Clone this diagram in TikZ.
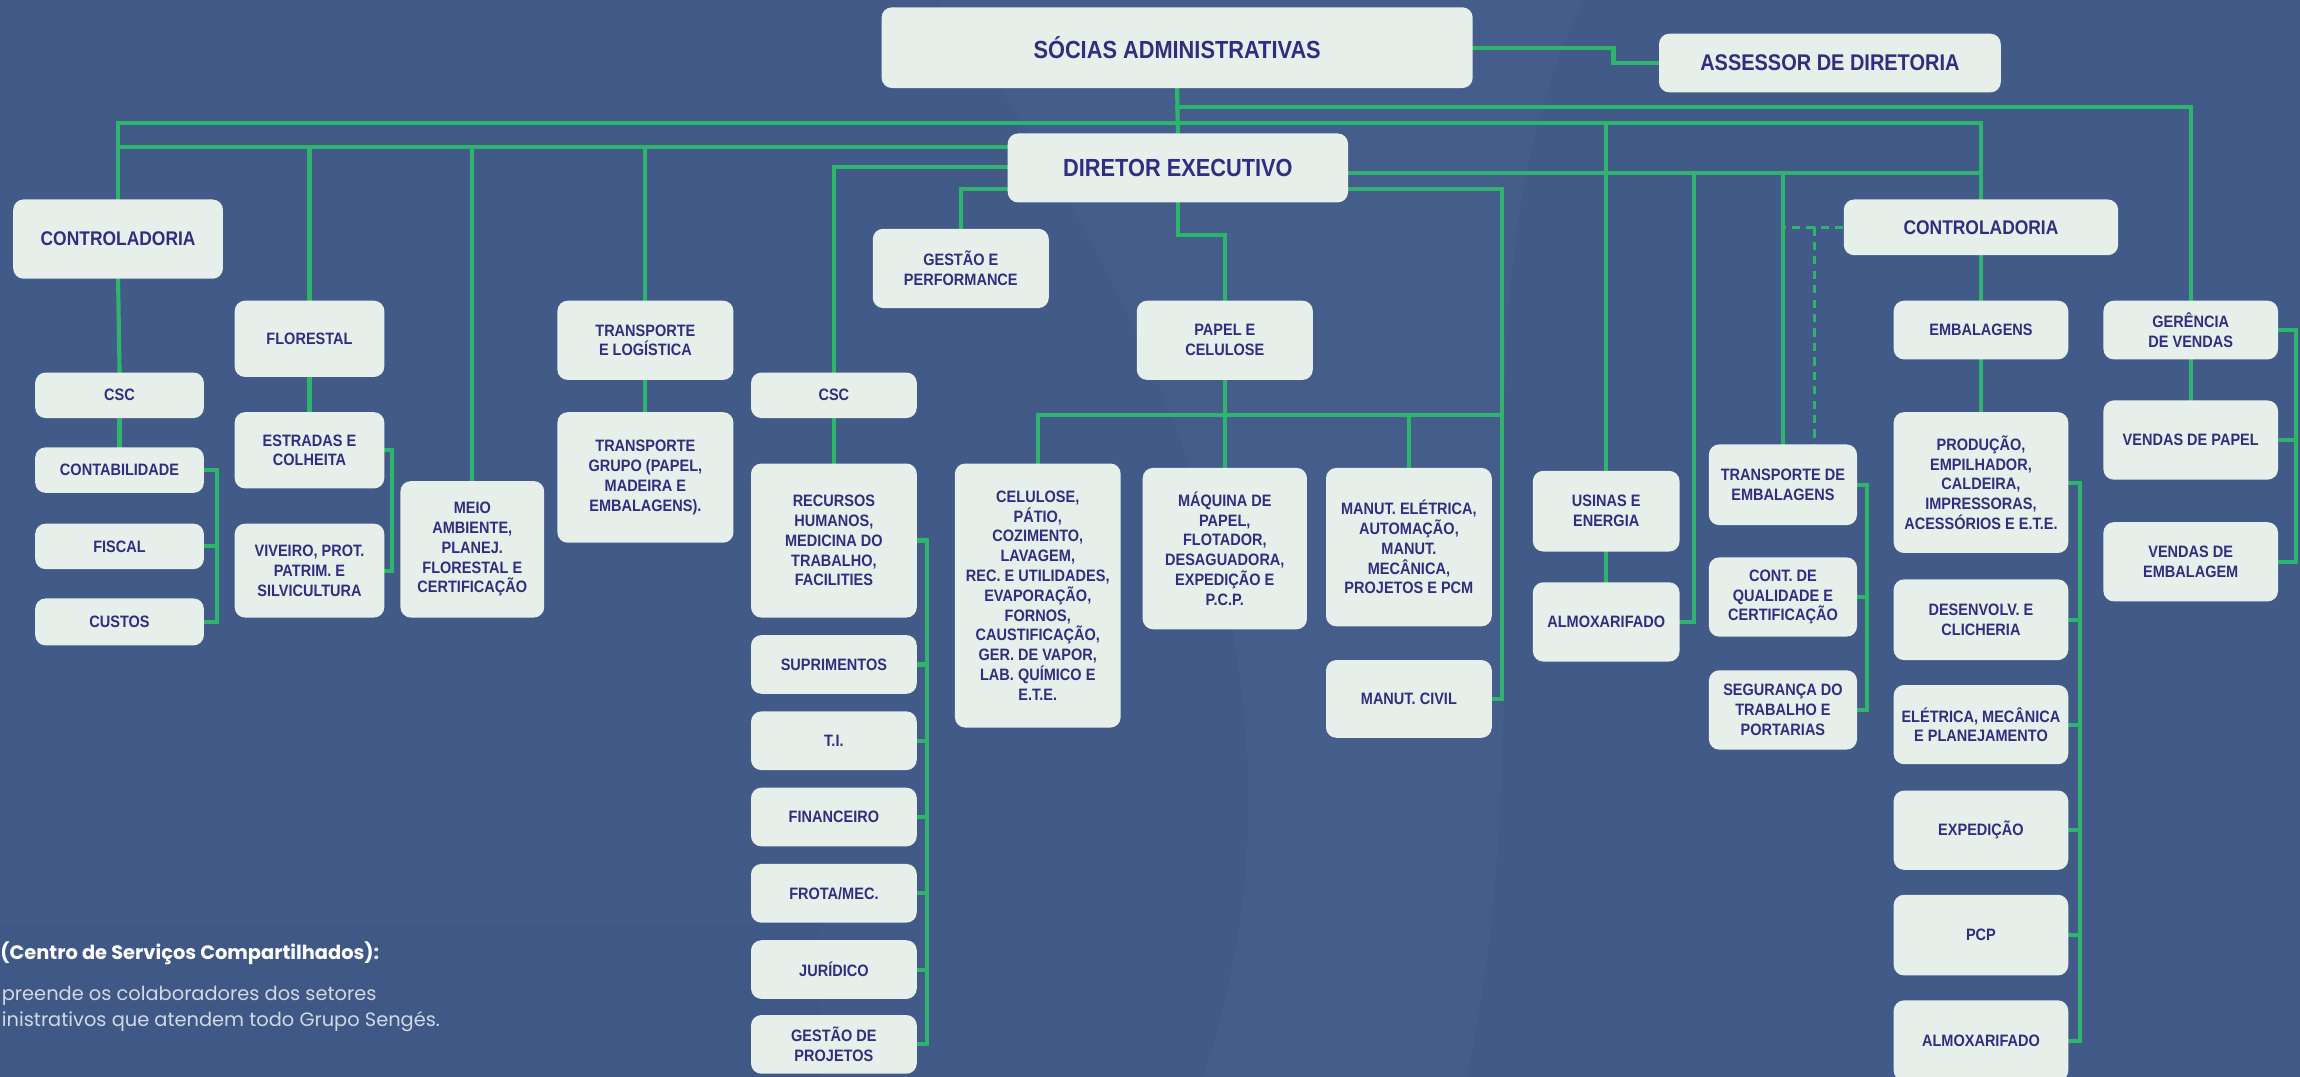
\documentclass[tikz,border=0pt]{standalone}
\usepackage{fontspec}
\setmainfont{Liberation Sans}
\newfontfamily\boxfont{Liberation Sans}[FakeStretch=0.88]
\newfontfamily\popfont{Poppins}
\usetikzlibrary{calc}
\definecolor{bgblue}{HTML}{415A88}
\definecolor{boxfill}{HTML}{E7EFEB}
\definecolor{boxtext}{HTML}{2E2F80}
\definecolor{lgreen}{HTML}{2DB66B}
\definecolor{bodytext}{HTML}{D3D9E4}
\newcommand\fsA{\boxfont\bfseries\fontsize{8}{9.6}\selectfont}
\newcommand\fsB{\boxfont\bfseries\fontsize{9.6}{11.5}\selectfont}
\newcommand\fsC{\boxfont\bfseries\fontsize{12}{14}\selectfont}
\newcommand\fsD{\boxfont\bfseries\fontsize{11}{13}\selectfont}
\newcommand\obox[7]{%
  \pgfmathsetmacro\bw{(#5-#3)*0.025}\pgfmathsetmacro\bh{(#6-#4)*0.025}%
  \node[#1, minimum width=\bw cm, minimum height=\bh cm] (#2) at ({(#3+#5)/2},{(#4+#6)/2}) {#7};}
\pgfdeclarelayer{bg}
\pgfdeclarelayer{lines}
\pgfsetlayers{bg,lines,main}
\tikzset{
  ob/.style={fill=boxfill, rounded corners=5pt, inner sep=0pt, align=center, text=boxtext, font=\fsA},
  obB/.style={ob, font=\fsB},
  obC/.style={ob, font=\fsC},
  obD/.style={ob, font=\fsD},
  conn/.style={draw=lgreen, line width=2pt, line cap=rect},
  dconn/.style={draw=lgreen, line width=1.5pt, dashed, dash pattern=on 4pt off 3pt},
}
\begin{document}
\begin{tikzpicture}[x=0.025cm, y=-0.025cm]
\useasboundingbox (0,0) rectangle (1568,734);
\begin{pgfonlayer}{bg}
  \fill[bgblue] (0,0) rectangle (1568,734);
  \fill[white, opacity=0.018] (640,0) .. controls (820,250) and (900,500) .. (820,734) -- (1000,734) .. controls (1060,450) and (980,200) .. (1080,0) -- cycle;
  \fill[black, opacity=0.02] (0,629) rectangle (560,734);
\end{pgfonlayer}

% top
\obox{obC}{soc}{601}{5}{1004}{60}{SÓCIAS ADMINISTRATIVAS}
\obox{obD}{ass}{1131}{23}{1364}{63}{ASSESSOR DE DIRETORIA}
\obox{obC}{dir}{687}{91}{919}{138}{DIRETOR EXECUTIVO}

% left controladoria
\obox{obB}{contL}{9}{136}{152}{190}{CONTROLADORIA}
\obox{ob}{cscL}{24}{254}{139}{285}{CSC}
\obox{ob}{contab}{24}{305}{139}{336}{CONTABILIDADE}
\obox{ob}{fiscal}{24}{357}{139}{388}{FISCAL}
\obox{ob}{custos}{24}{408}{139}{440}{CUSTOS}

% florestal
\obox{ob}{flor}{160}{205}{262}{257}{FLORESTAL}
\obox{ob}{estr}{160}{281}{262}{333}{ESTRADAS E\\COLHEITA}
\obox{ob}{viv}{160}{357}{262}{421}{VIVEIRO, PROT.\\PATRIM. E\\SILVICULTURA}
\obox{ob}{meio}{273}{328}{371}{421}{MEIO\\AMBIENTE,\\PLANEJ.\\FLORESTAL E\\CERTIFICAÇÃO}

% transporte
\obox{ob}{tlog}{380}{205}{500}{259}{TRANSPORTE\\E LOGÍSTICA}
\obox{ob}{tgrp}{380}{281}{500}{370}{TRANSPORTE\\GRUPO (PAPEL,\\MADEIRA E\\EMBALAGENS).}

% csc middle
\obox{ob}{gest}{595}{156}{715}{210}{GESTÃO E\\PERFORMANCE}
\obox{ob}{cscM}{512}{254}{625}{285}{CSC}
\obox{ob}{rh}{512}{316}{625}{421}{RECURSOS\\HUMANOS,\\MEDICINA DO\\TRABALHO,\\FACILITIES}
\obox{ob}{supr}{512}{433}{625}{473}{SUPRIMENTOS}
\obox{ob}{ti}{512}{485}{625}{525}{T.I.}
\obox{ob}{fin}{512}{537}{625}{577}{FINANCEIRO}
\obox{ob}{frota}{512}{589}{625}{629}{FROTA/MEC.}
\obox{ob}{jur}{512}{641}{625}{681}{JURÍDICO}
\obox{ob}{gproj}{512}{692}{625}{732}{GESTÃO DE\\PROJETOS}

% papel e celulose
\obox{ob}{papel}{775}{205}{895}{259}{PAPEL E\\CELULOSE}
\obox{ob}{celu}{651}{316}{764}{496}{CELULOSE,\\PÁTIO,\\COZIMENTO,\\LAVAGEM,\\REC. E UTILIDADES,\\EVAPORAÇÃO,\\FORNOS,\\CAUSTIFICAÇÃO,\\GER. DE VAPOR,\\LAB. QUÍMICO E\\E.T.E.}
\obox{ob}{maq}{779}{319}{891}{429}{MÁQUINA DE\\PAPEL,\\FLOTADOR,\\DESAGUADORA,\\EXPEDIÇÃO E\\P.C.P.}
\obox{ob}{manel}{904}{319}{1017}{427}{MANUT. ELÉTRICA,\\AUTOMAÇÃO,\\MANUT.\\MECÂNICA,\\PROJETOS E PCM}
\obox{ob}{mciv}{904}{450}{1017}{503}{MANUT. CIVIL}

% usinas
\obox{ob}{usin}{1045}{321}{1145}{376}{USINAS E\\ENERGIA}
\obox{ob}{almM}{1045}{397}{1145}{451}{ALMOXARIFADO}

% transporte embalagens
\obox{ob}{temb}{1165}{303}{1266}{358}{TRANSPORTE DE\\EMBALAGENS}
\obox{ob}{cq}{1165}{380}{1266}{434}{CONT. DE\\QUALIDADE E\\CERTIFICAÇÃO}
\obox{ob}{seg}{1165}{457}{1266}{511}{SEGURANÇA DO\\TRABALHO E\\PORTARIAS}

% right controladoria
\obox{obB}{contR}{1257}{136}{1444}{174}{CONTROLADORIA}
\obox{ob}{emb}{1291}{205}{1410}{245}{EMBALAGENS}
\obox{ob}{prod}{1291}{281}{1410}{377}{PRODUÇÃO,\\EMPILHADOR,\\CALDEIRA,\\IMPRESSORAS,\\ACESSÓRIOS E E.T.E.}
\obox{ob}{desv}{1291}{395}{1410}{450}{DESENVOLV. E\\CLICHERIA}
\obox{ob}{elet}{1291}{467}{1410}{521}{ELÉTRICA, MECÂNICA\\E PLANEJAMENTO}
\obox{ob}{exped}{1291}{539}{1410}{593}{EXPEDIÇÃO}
\obox{ob}{pcp}{1291}{610}{1410}{665}{PCP}
\obox{ob}{almR}{1291}{682}{1410}{737}{ALMOXARIFADO}

% vendas
\obox{ob}{gerv}{1434}{205}{1553}{245}{GERÊNCIA\\DE VENDAS}
\obox{ob}{vpap}{1434}{273}{1553}{327}{VENDAS DE PAPEL}
\obox{ob}{vemb}{1434}{356}{1553}{410}{VENDAS DE\\EMBALAGEM}

% footnote text
\node[anchor=base west, inner sep=0pt, text=white, font=\popfont\bfseries\fontsize{9.4}{11}\selectfont] (cscT) at (0,654) {(Centro de Serviços Compartilhados):};
\node[anchor=base west, inner sep=0pt, text=bodytext, font=\popfont\fontsize{9.4}{11}\selectfont] (cscB1) at (1,682) {preende os colaboradores dos setores};
\node[anchor=base west, inner sep=0pt, text=bodytext, font=\popfont\fontsize{9.4}{11}\selectfont] (cscB2) at (1,700) {inistrativos que atendem todo Grupo Sengés.};

% helper coordinates
\coordinate (kA) at (1100,38);
\coordinate (yT) at (0,73);
\coordinate (yA) at (0,84);
\coordinate (yB) at (0,100);
\coordinate (yC) at (0,114);
\coordinate (yD) at (0,129);
\coordinate (yE) at (0,160);
\coordinate (yR1) at (0,118);
\coordinate (yR2) at (0,129);
\coordinate (yP) at (0,283);
\coordinate (xAlm) at (1155,0);
\coordinate (xRb) at (1024,0);
\coordinate (xDash) at (1237,0);
\coordinate (brA) at (148,0);
\coordinate (brB) at (267,0);
\coordinate (brC) at (632,0);
\coordinate (brD) at (1273,0);
\coordinate (brE) at (1418,0);
\coordinate (brF) at (1565,0);

\begin{pgfonlayer}{lines}
% top
\draw[conn] (soc.east) -| (kA) |- (ass.west);
\draw[conn] (soc.south) -- (dir.north);
\draw[conn] (soc.south |- yT) -- (gerv.north |- yT) -- (gerv.north);
\draw[conn] (contL.north) -- (contL.north |- yA) -- (contR.north |- yA) -- (contR.north);
\draw[conn] (usin.north |- yA) -- (usin.north);
% left of director
\draw[conn] (dir.west |- yB) -- (contL.north |- yB);
\draw[conn] (flor.north |- yB) -- (flor.north);
\draw[conn] (meio.north |- yB) -- (meio.north);
\draw[conn] (tlog.north |- yB) -- (tlog.north);
\draw[conn] (dir.west |- yC) -| (cscM.north);
\draw[conn] (dir.west |- yD) -| (gest.north);
\draw[conn] (dir.south) -- (dir.south |- yE) -| (papel.north);
% right of director
\draw[conn] (dir.east |- yR1) -- (contR.north |- yR1);
\draw[conn] (xAlm |- yR1) |- (almM.east);
\draw[conn] (temb.north |- yR1) -- (temb.north);
\draw[dconn] (contR.west) -- (temb.north |- contR.west);
\draw[dconn] (xDash |- contR.west) -- (xDash |- temb.north);
\draw[conn] (dir.east |- yR2) -- (xRb |- yR2) |- (mciv.east);
% papel e celulose
\draw[conn] (papel.south) -- (papel.south |- yP);
\draw[conn] (celu.north |- yP) -- (xRb |- yP);
\draw[conn] (celu.north |- yP) -- (celu.north);
\draw[conn] (maq.north |- yP) -- (maq.north);
\draw[conn] (manel.north |- yP) -- (manel.north);
% simple verticals
\draw[conn] (contL.south) -- (cscL.north);
\draw[conn] (cscL.south) -- (contab.north);
\draw[conn] (flor.south) -- (estr.north);
\draw[conn] (tlog.south) -- (tgrp.north);
\draw[conn] (cscM.south) -- (rh.north);
\draw[conn] (usin.south) -- (almM.north);
\draw[conn] (contR.south) -- (emb.north);
\draw[conn] (emb.south) -- (prod.north);
\draw[conn] (gerv.south) -- (vpap.north);
% brackets
\draw[conn] (contab.east) -- (contab.east -| brA) -- (custos.east -| brA) -- (custos.east);
\draw[conn] (fiscal.east) -- (fiscal.east -| brA);
\draw[conn] (estr.east) -- (estr.east -| brB) -- (viv.east -| brB) -- (viv.east);
\draw[conn] (rh.east) -- (rh.east -| brC) -- (gproj.east -| brC) -- (gproj.east);
\foreach \n in {supr,ti,fin,frota,jur} \draw[conn] (\n.east) -- (\n.east -| brC);
\draw[conn] (temb.east) -- (temb.east -| brD) -- (seg.east -| brD) -- (seg.east);
\draw[conn] (cq.east) -- (cq.east -| brD);
\draw[conn] (prod.east) -- (prod.east -| brE) -- (almR.east -| brE) -- (almR.east);
\foreach \n in {desv,elet,exped,pcp} \draw[conn] (\n.east) -- (\n.east -| brE);
\draw[conn] (gerv.east) -- (gerv.east -| brF) -- (vemb.east -| brF) -- (vemb.east);
\draw[conn] (vpap.east) -- (vpap.east -| brF);
\end{pgfonlayer}
\end{tikzpicture}
\end{document}
